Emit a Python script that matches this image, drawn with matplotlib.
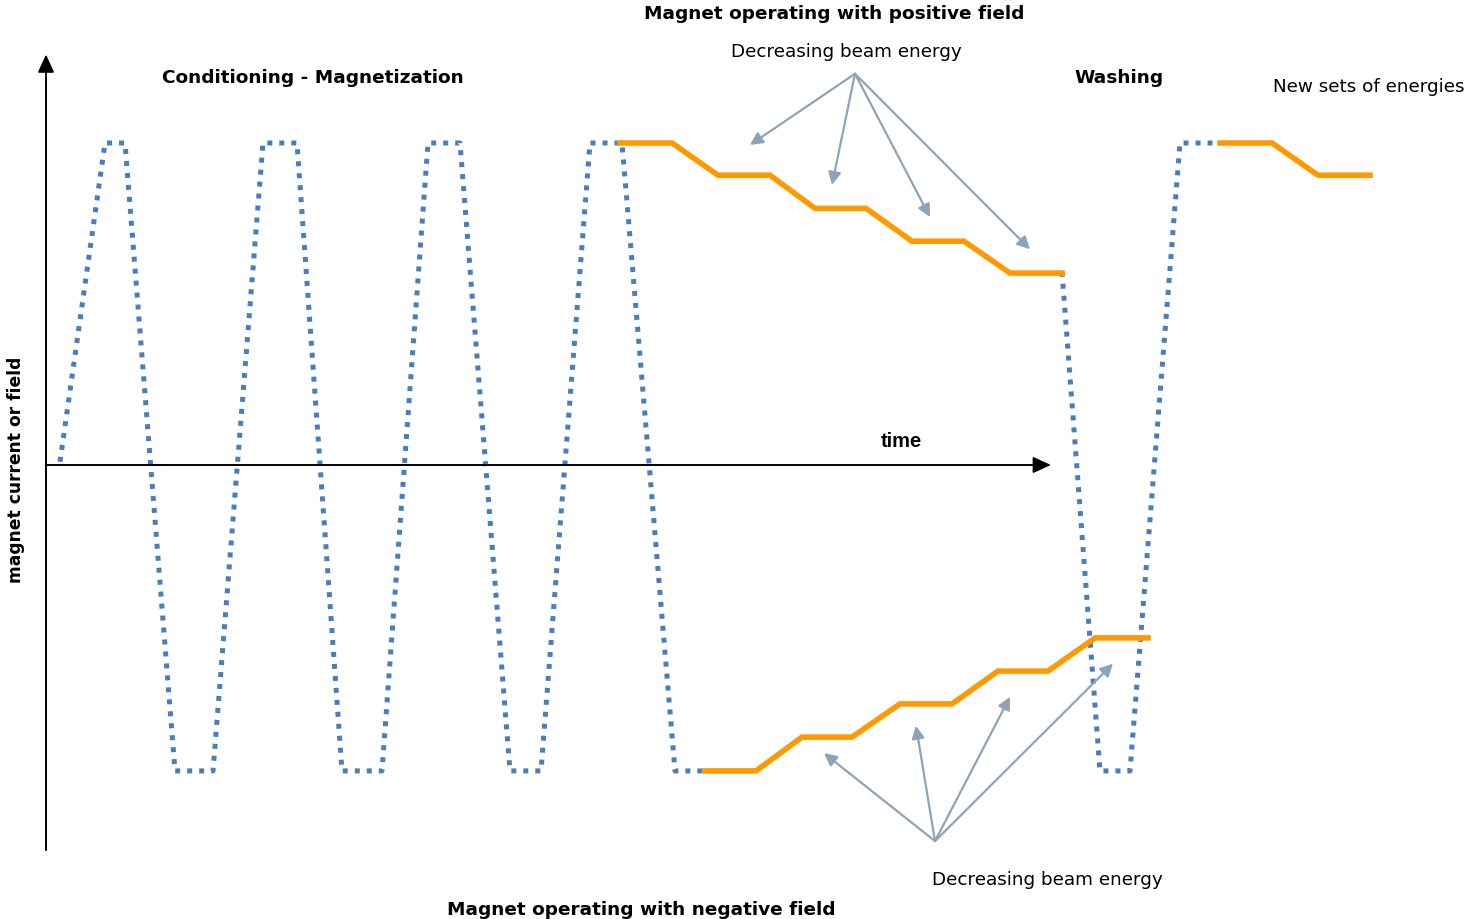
import matplotlib.pyplot as plt

# Diagram units: time runs left to right (pixel-like units),
# field is 0 on the time axis, +1 at the positive plateau.

# blue dotted conditioning / washing cycles
cond_t = [60, 105, 125, 175, 213, 263, 297, 342, 382, 428, 460, 510, 541, 590, 622, 675, 705]
cond_b = [0.01, 1.0, 1.0, -0.95, -0.95, 1.0, 1.0, -0.95, -0.95, 1.0, 1.0, -0.95, -0.95, 1.0, 1.0, -0.95, -0.95]
wash_t = [1062, 1100, 1130, 1180, 1218]
wash_b = [0.60, -0.95, -0.95, 1.0, 1.0]

# orange: positive field, decreasing energy steps
pos_t = [620, 672, 718, 770, 815, 866, 912, 964, 1010, 1062]
pos_b = [1.0, 1.0, 0.90, 0.90, 0.797, 0.797, 0.695, 0.695, 0.596, 0.596]
# orange: negative field, decreasing energy steps
neg_t = [705, 756, 802, 852, 900, 952, 998, 1048, 1095, 1148]
neg_b = [-0.95, -0.95, -0.845, -0.845, -0.742, -0.742, -0.64, -0.64, -0.537, -0.537]
# orange: new sets of energies
new_t = [1220, 1272, 1318, 1370]
new_b = [1.0, 1.0, 0.90, 0.90]

# arrow sources and targets
top_src = (855, 1.215)
top_dst = [(750, 0.994), (832, 0.87), (930, 0.77), (1030, 0.67)]
bot_src = (935, -1.168)
bot_dst = [(824, -0.895), (916, -0.81), (1010, -0.72), (1113, -0.617)]

blue = '#4a7ebb'
orange = '#ff9900'
grey = '#8ea3b9'

fig = plt.figure(figsize=(14.66, 9.2), dpi=100)
ax = fig.add_axes([0, 0, 1, 1])
ax.set_xlim(0, 1466)
ax.set_ylim((466 - 920) / 322, 466 / 322)
ax.axis('off')

# axes arrows
ax.annotate('', xy=(46, 1.275), xytext=(46, -1.196),
            arrowprops=dict(arrowstyle='-|>,head_length=1.1,head_width=0.5',
                            color='black', lw=1.3, shrinkA=0, shrinkB=0))
ax.annotate('', xy=(1051, 0), xytext=(46, 0),
            arrowprops=dict(arrowstyle='-|>,head_length=1.1,head_width=0.5',
                            color='black', lw=1.3, shrinkA=0, shrinkB=0))
ax.plot([46, 46], [-1.196, 1.2], color='#404040', lw=1.3)
ax.plot([46, 1035], [0, 0], color='#404040', lw=1.3)

for t, b in [(cond_t, cond_b), (wash_t, wash_b)]:
    ax.plot(t, b, color=blue, lw=3.6, dashes=(1, 1.4), dash_capstyle='butt')

for t, b in [(pos_t, pos_b), (neg_t, neg_b), (new_t, new_b)]:
    ax.plot(t, b, color=orange, lw=4.0, solid_joinstyle='miter', zorder=3)

for dst in top_dst:
    ax.annotate('', xy=dst, xytext=top_src,
                arrowprops=dict(arrowstyle='-|>,head_length=0.75,head_width=0.38',
                                color=grey, lw=1.6, shrinkA=0, shrinkB=0))
for dst in bot_dst:
    ax.annotate('', xy=dst, xytext=bot_src,
                arrowprops=dict(arrowstyle='-|>,head_length=0.75,head_width=0.38',
                                color=grey, lw=1.6, shrinkA=0, shrinkB=0))

def px(x, y):
    return x, (466 - y) / 322

ax.text(*px(834, 14), 'Magnet operating with positive field', ha='center', va='center',
        fontsize=13.3, fontweight='bold')
ax.text(*px(846, 52), 'Decreasing beam energy', ha='center', va='center', fontsize=13.2)
ax.text(*px(313, 78), 'Conditioning - Magnetization', ha='center', va='center',
        fontsize=13.3, fontweight='bold')
ax.text(*px(1119, 78), 'Washing', ha='center', va='center', fontsize=13.3, fontweight='bold')
ax.text(*px(1369, 87), 'New sets of energies', ha='center', va='center', fontsize=13.2)
ax.text(*px(901, 442), 'time', ha='center', va='center', fontsize=14.5, fontweight='bold',
        family='Liberation Sans')
ax.text(*px(16, 470), 'magnet current or field', ha='center', va='center', rotation=90,
        fontsize=12.3, fontweight='bold')
ax.text(*px(1047, 880), 'Decreasing beam energy', ha='center', va='center', fontsize=13.2)
ax.text(*px(641, 910), 'Magnet operating with negative field', ha='center', va='center',
        fontsize=13.3, fontweight='bold')

fig.savefig('out.png', dpi=100)
